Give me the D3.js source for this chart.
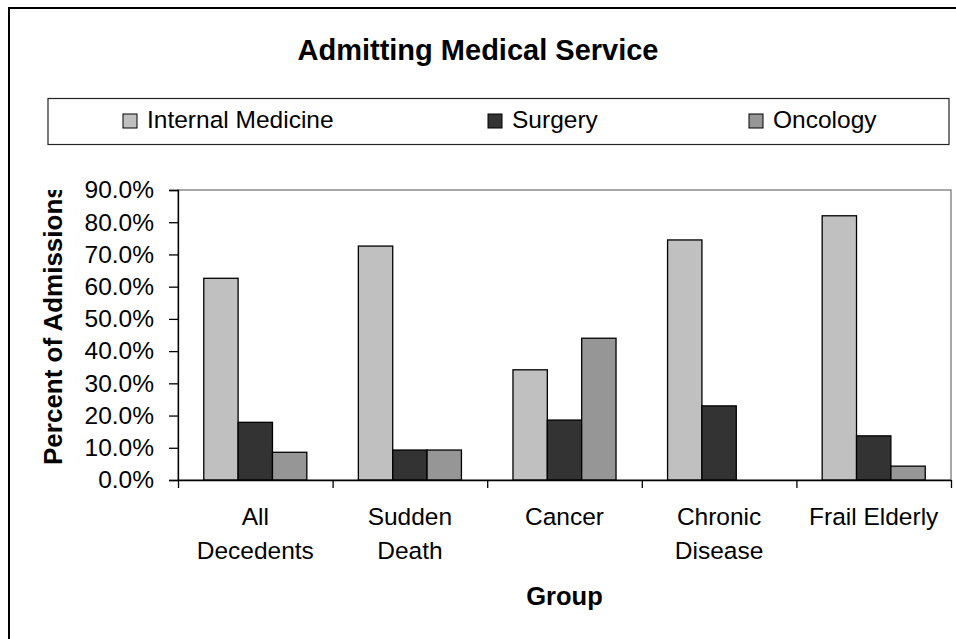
<html>
<meta charset="utf-8">
<script src="https://d3js.org/d3.v7.min.js"></script>
<style>
body{
  margin: 0;
  background-color: white;
}
text{
  font-family: "Liberation Sans", Arial, sans-serif;
  fill: black;
}
.bar{
  stroke: black;
  stroke-width: 1.3;
}
</style>

<body>
<div id="chartDiv"></div>

<script>
// values (percent of admissions)
var groups = ["All Decedents", "Sudden Death", "Cancer", "Chronic Disease", "Frail Elderly"];
var groupLines = [["All", "Decedents"], ["Sudden", "Death"], ["Cancer"], ["Chronic", "Disease"], ["Frail Elderly"]];
var seriesNames = ["Internal Medicine", "Surgery", "Oncology"];
var internalMedicine = [62.6, 72.6, 34.2, 74.5, 82.0];
var surgery = [17.9, 9.3, 18.6, 23.0, 13.7];
var oncology = [8.6, 9.3, 44.0, 0.0, 4.3];
var yTicks = [0, 10, 20, 30, 40, 50, 60, 70, 80, 90];

var seriesValues = [internalMedicine, surgery, oncology];
var seriesCols = ["#c0c0c0", "#333333", "#969696"];

var width = 956, height = 639;
var plot = {left: 178, right: 951, top: 190, bottom: 480};

var svg = d3.select("#chartDiv").append("svg")
  .attr("width", width).attr("height", height);

// outer chart frame (runs off right and bottom)
svg.append("rect")
  .attr("x", 9).attr("y", 8)
  .attr("width", 1000).attr("height", 700)
  .attr("fill", "white")
  .attr("stroke", "black")
  .attr("stroke-width", 2);

svg.append("text")
  .attr("x", 478).attr("y", 60)
  .attr("text-anchor", "middle")
  .style("font-size", "29px")
  .style("font-weight", "bold")
  .text("Admitting Medical Service");

// legend
var legendX = [123, 488, 749];
svg.append("rect")
  .attr("x", 48).attr("y", 98.5)
  .attr("width", 901).attr("height", 46)
  .attr("fill", "white")
  .attr("stroke", "#222")
  .attr("stroke-width", 1.2);

var legendItems = svg.selectAll(".legendItem").data(seriesNames)
  .enter().append("g")
  .attr("class", "legendItem")
  .attr("transform", function(d, i){ return "translate(" + legendX[i] + ",114)"; });

legendItems.append("rect")
  .attr("width", 14).attr("height", 14)
  .attr("fill", function(d, i){ return seriesCols[i]; })
  .attr("stroke", "black")
  .attr("stroke-width", 1);

legendItems.append("text")
  .attr("x", 24).attr("y", 14)
  .style("font-size", "24.5px")
  .text(function(d){ return d; });

// scales
var x0 = d3.scaleBand().domain(groups).range([plot.left, plot.right]).padding(0);
var bw = x0.bandwidth();
var x1 = d3.scaleBand().domain(seriesNames).range([bw * 0.75 / 4.5, bw - bw * 0.75 / 4.5]).padding(0);
var y = d3.scaleLinear().domain([0, 90]).range([plot.bottom, plot.top]);

// plot area border
svg.append("rect")
  .attr("x", plot.left).attr("y", plot.top)
  .attr("width", plot.right - plot.left).attr("height", plot.bottom - plot.top)
  .attr("fill", "white")
  .attr("stroke", "#8c8c8c")
  .attr("stroke-width", 1.5);

// bars
var barData = [];
groups.forEach(function(g, gi){
  seriesNames.forEach(function(s, si){
    barData.push({group: g, series: s, value: seriesValues[si][gi], col: seriesCols[si]});
  });
});

svg.selectAll(".bar").data(barData.filter(function(d){ return d.value > 0; }))
  .enter().append("rect")
  .attr("class", "bar")
  .attr("x", function(d){ return x0(d.group) + x1(d.series); })
  .attr("width", x1.bandwidth())
  .attr("y", function(d){ return y(d.value); })
  .attr("height", function(d){ return y(0) - y(d.value); })
  .attr("fill", function(d){ return d.col; });

// y axis
var yAxis = svg.append("g")
  .attr("transform", "translate(" + plot.left + ",0)")
  .call(d3.axisLeft(y).tickValues(yTicks)
    .tickFormat(function(d){ return d.toFixed(1) + "%"; })
    .tickSize(9).tickPadding(15));
yAxis.selectAll("text").style("font-size", "24.5px").attr("fill", "black");
yAxis.selectAll("line, path").attr("stroke", "black").attr("stroke-width", 1.3);

// x axis: ticks between categories
var xEdge = d3.scaleLinear().domain([0, groups.length]).range([plot.left, plot.right]);
var xAxis = svg.append("g")
  .attr("transform", "translate(0," + plot.bottom + ")")
  .call(d3.axisBottom(xEdge).tickValues(d3.range(groups.length + 1))
    .tickFormat("").tickSizeInner(8).tickSizeOuter(0));
xAxis.selectAll("line, path").attr("stroke", "black").attr("stroke-width", 1.3);

var catLabels = svg.selectAll(".catLabel").data(groups)
  .enter().append("text")
  .attr("class", "catLabel")
  .attr("text-anchor", "middle")
  .style("font-size", "24.5px");

catLabels.selectAll("tspan")
  .data(function(d, i){ return groupLines[i].map(function(l){ return {line: l, g: d}; }); })
  .enter().append("tspan")
  .attr("x", function(d){ return x0(d.g) + bw / 2; })
  .attr("y", function(d, i){ return 525 + i * 34; })
  .text(function(d){ return d.line; });

// axis titles
svg.append("text")
  .attr("x", (plot.left + plot.right) / 2).attr("y", 605)
  .attr("text-anchor", "middle")
  .style("font-size", "25.5px")
  .style("font-weight", "bold")
  .text("Group");

svg.append("clipPath").attr("id", "yTitleClip")
  .append("rect")
  .attr("x", 20).attr("y", 190)
  .attr("width", 60).attr("height", 300);

svg.append("g")
  .attr("clip-path", "url(#yTitleClip)")
  .append("text")
  .attr("transform", "translate(62,465) rotate(-90)")
  .style("font-size", "26px")
  .style("font-weight", "bold")
  .text("Percent of Admissions");
</script>
</body>
</html>
